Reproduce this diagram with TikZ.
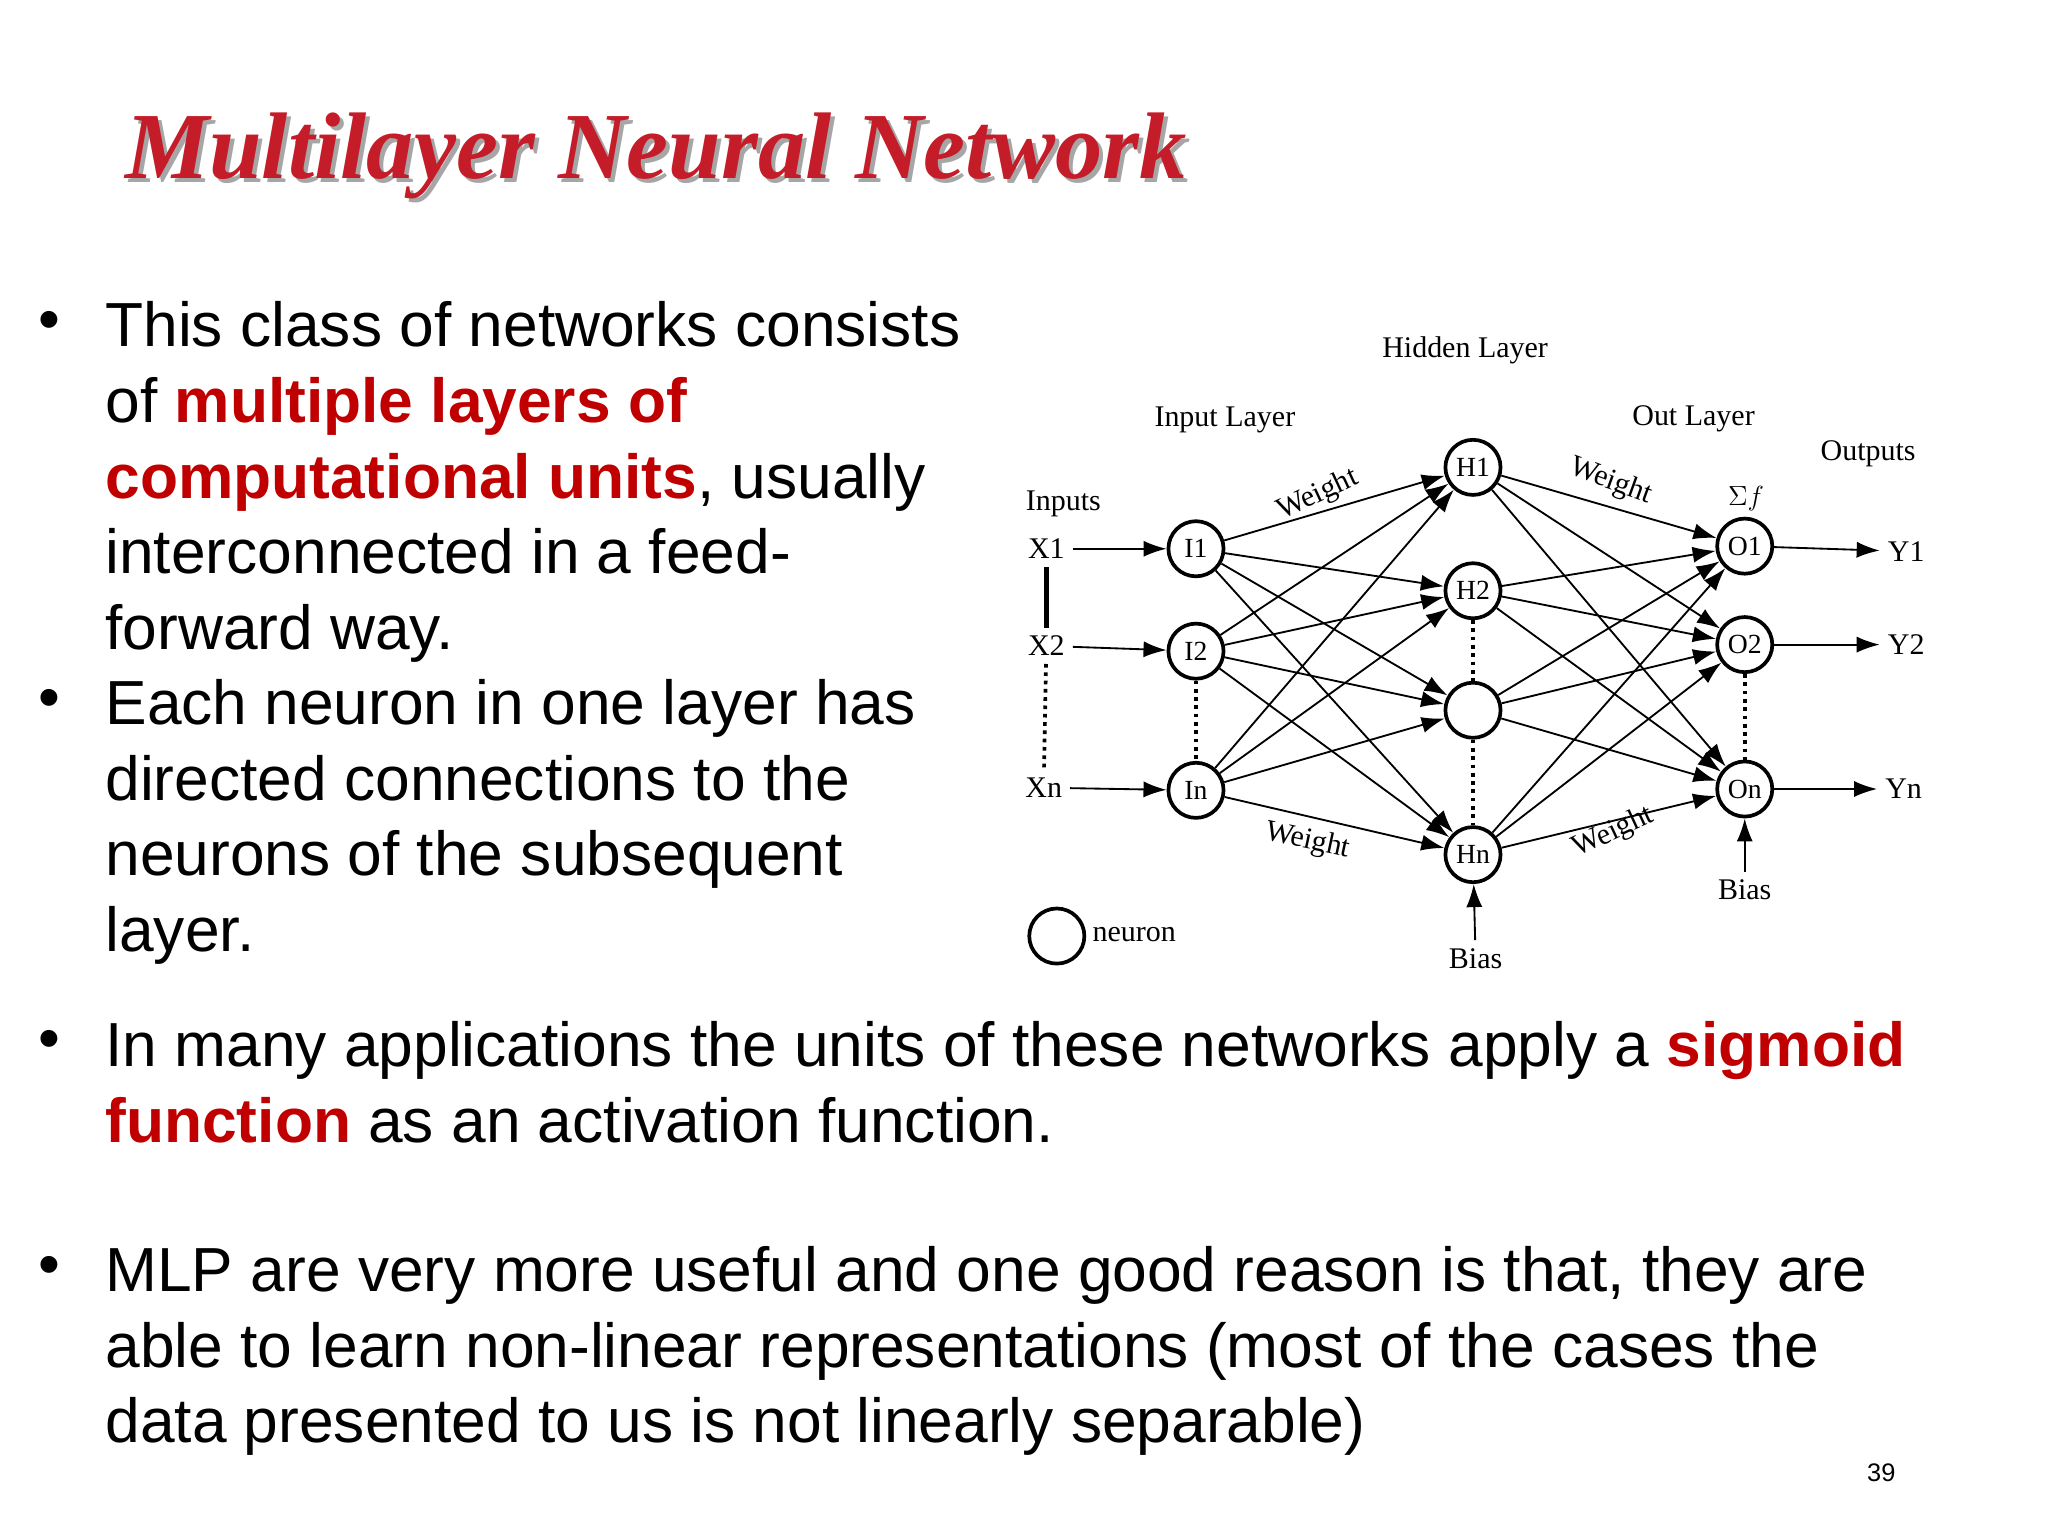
\documentclass[tikz,border=0pt]{standalone}
\usepackage{fontspec}
\setmainfont{Liberation Sans}
\newfontfamily\serifd{Liberation Serif}
\usetikzlibrary{arrows.meta}
\definecolor{tred}{RGB}{196,28,40}
\definecolor{bred}{RGB}{192,0,0}
\tikzset{
 neur/.style={circle,draw,line width=1.6pt,minimum size=0.84cm,inner sep=0pt,font=\serifd\fontsize{12}{12}\selectfont},
 conn/.style={-{Latex[length=10pt,width=7pt]},line width=0.8pt},
 lab/.style={font=\serifd\fontsize{13}{13}\selectfont},
 body/.style={anchor=base west,font=\fontsize{27}{27}\selectfont,inner sep=0pt},
 dots/.style={line width=1.6pt,dotted},
}
\begin{document}
\begin{tikzpicture}[x=0.02cm,y=-0.02cm]
\useasboundingbox[fill=white] (0,0) rectangle (1560,1170);
% title
\node[anchor=base west,text=black!35,font=\serifd\bfseries\itshape\fontsize{41}{41}\selectfont,inner sep=0pt] (ts) at (98,139) {Multilayer Neural Network};
\node[anchor=base west,text=tred,font=\serifd\bfseries\itshape\fontsize{41}{41}\selectfont,inner sep=0pt] (t) at (95,136) {Multilayer Neural Network};
% bullets
\foreach \y in {248,536,796,968} \node[font=\fontsize{27}{27}\selectfont] (b\y) at (38,\y) {•};
\node[body] (l1) at (80,264) {This class of networks consists};
\node[body] (l2) at (80,322) {of \textcolor{bred}{\bfseries multiple layers of}};
\node[body] (l3) at (80,380) {\textcolor{bred}{\bfseries computational units}, usually};
\node[body] (l4) at (80,437) {interconnected in a feed-};
\node[body] (l5) at (80,495) {forward way.};
\node[body] (l6) at (80,552) {Each neuron in one layer has};
\node[body] (l7) at (80,610) {directed connections to the};
\node[body] (l8) at (80,667) {neurons of the subsequent};
\node[body] (l9) at (80,725) {layer.};
\node[body] (l10) at (80,812) {In many applications the units of these networks apply a \textcolor{bred}{\bfseries sigmoid}};
\node[body] (l11) at (80,870) {\textcolor{bred}{\bfseries function} as an activation function.};
\node[body] (l12) at (80,984) {MLP are very more useful and one good reason is that, they are};
\node[body] (l13) at (80,1042) {able to learn non-linear representations (most of the cases the};
\node[body] (l14) at (80,1099) {data presented to us is not linearly separable)};
\node[font=\fontsize{11}{11}\selectfont] (pg) at (1433,1122) {39};
% network
\node[neur] (I1) at (911,418) {I1};
\node[neur] (I2) at (911,496) {I2};
\node[neur] (In) at (911,602) {In};
\node[neur] (H1) at (1122,356) {H1};
\node[neur] (H2) at (1122,450) {H2};
\node[neur] (H3) at (1122,541) {};
\node[neur] (Hn) at (1122,651) {Hn};
\node[neur] (O1) at (1329,416) {O1};
\node[neur] (O2) at (1329,491) {O2};
\node[neur] (On) at (1329,601) {On};
\foreach \i in {I1,I2,In} \foreach \h in {H1,H2,H3,Hn} \draw[conn] (\i) -- (\h);
\foreach \h in {H1,H2,H3,Hn} \foreach \o in {O1,O2,On} \draw[conn] (\h) -- (\o);
\draw[dots] (I2) -- (In);
\draw[dots] (H2) -- (H3);
\draw[dots] (H3) -- (Hn);
\draw[dots] (O2) -- (On);
\node[lab] (X1) at (797,418) {X1};
\node[lab] (X2) at (797,492) {X2};
\node[lab] (Xn) at (795,600) {Xn};
\draw[conn] (X1) -- (I1);
\draw[conn] (X2) -- (I2);
\draw[conn] (Xn) -- (In);
\draw[line width=2pt] (X1) -- (X2);
\draw[dots] (X2) -- (Xn);
\node[lab] (Y1) at (1452,420) {Y1};
\node[lab] (Y2) at (1452,491) {Y2};
\node[lab] (Yn) at (1450,601) {Yn};
\draw[conn] (O1) -- (Y1);
\draw[conn] (O2) -- (Y2);
\draw[conn] (On) -- (Yn);
\node[lab] (inp) at (810,384) {Inputs};
\node[lab] (il) at (933,320) {Input Layer};
\node[lab] (hl) at (1116,267) {Hidden Layer};
\node[lab] (ol) at (1290,319) {Out Layer};
\node[lab] (outp) at (1423,346) {Outputs};
\node[lab] (sf) at (1330,380) {$\Sigma f$};
\node[lab] (bh) at (1124,730) {Bias};
\node[lab] (bo) at (1329,678) {Bias};
\draw[conn] (bh) -- (Hn);
\draw[conn] (bo) -- (On);
\node[neur] (leg) at (805,713) {};
\node[lab,anchor=west] (legt) at (826,712) {neuron};
\node[lab,rotate=25] (w1) at (1004,377) {Weight};
\node[lab,rotate=-20] (w2) at (1227,367) {Weight};
\node[lab,rotate=-12] (w3) at (996,641) {Weight};
\node[lab,rotate=25] (w4) at (1229,634) {Weight};
\end{tikzpicture}
\end{document}
